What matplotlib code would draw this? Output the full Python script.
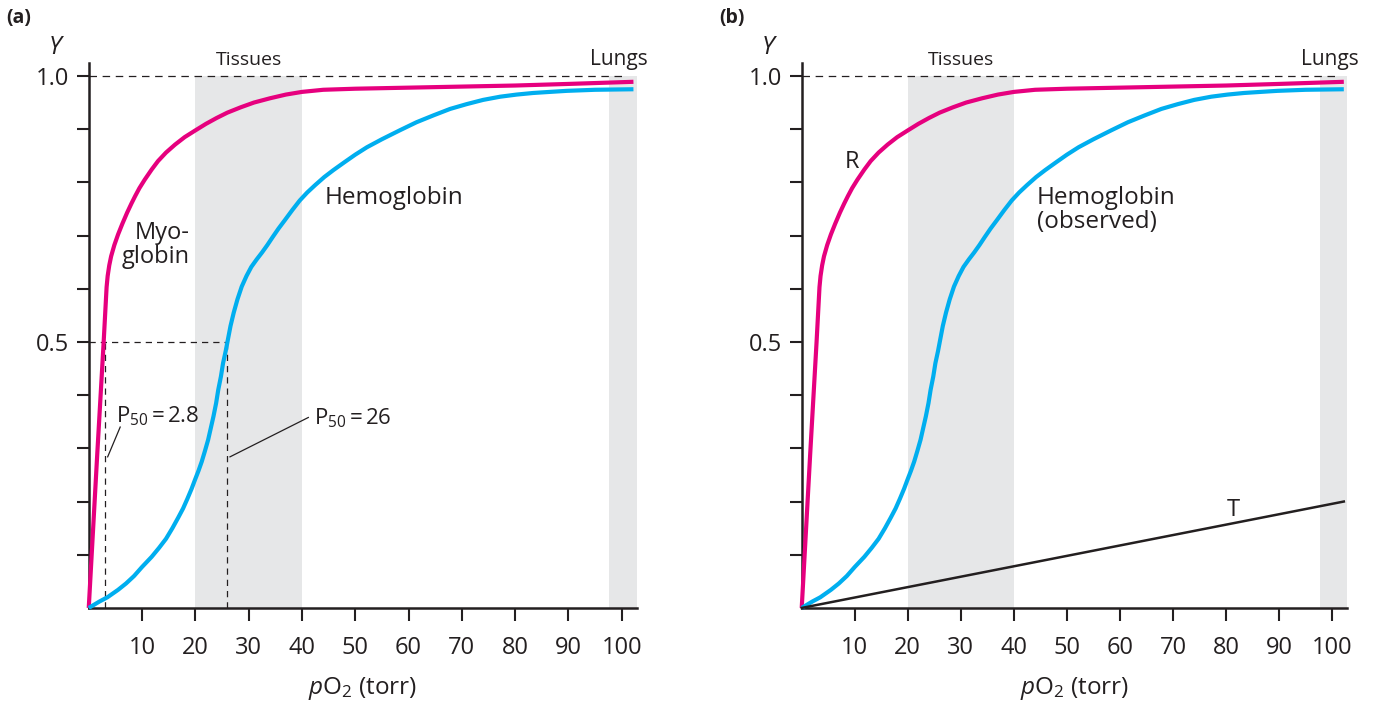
import matplotlib
matplotlib.use("Agg")
import matplotlib.pyplot as plt

plt.rcParams['font.family'] = ['Open Sans', 'DejaVu Sans']
plt.rcParams['mathtext.fontset'] = 'custom'
plt.rcParams['mathtext.rm'] = 'Open Sans'
plt.rcParams['mathtext.it'] = 'Open Sans:italic'

# ---- data (pO2 in torr, fractional saturation Y) ----
myo_p = [0, 1.6, 2.8, 3.2, 3.35, 3.55, 3.85, 4.2, 4.8, 5.5, 6.3, 7.2, 8.0, 8.7, 9.5,
         10.5, 11.8, 13.0, 14.5, 16.2, 18.0, 19.9, 22.0, 24.0, 26.0, 28.5, 31.0, 34.0,
         37.0, 40.0, 44.0, 50.0, 60.0, 70.0, 80.0, 90.0, 102.2]
myo_y = [0, 0.29, 0.50, 0.575, 0.603, 0.624, 0.644, 0.661, 0.682, 0.702, 0.722, 0.743,
         0.76, 0.774, 0.789, 0.805, 0.824, 0.84, 0.856, 0.871, 0.885, 0.897, 0.91,
         0.921, 0.931, 0.941, 0.95, 0.958, 0.965, 0.97, 0.974, 0.976, 0.978, 0.98,
         0.982, 0.985, 0.989]

hb_p = [0, 1.0, 2.0, 3.5, 5.5, 7.0, 8.5, 10.0, 11.8, 13.2, 14.5, 15.7, 16.8, 17.7, 18.5,
        19.3, 19.9, 20.6, 21.2, 21.8, 22.4, 22.9, 23.4, 23.9, 24.3, 24.8, 25.2, 25.7,
        26.1, 26.6, 27.2, 27.9, 28.7, 29.6, 30.5, 31.5, 32.5, 33.5, 34.5, 35.6, 36.8,
        38.2, 39.6, 41.0, 42.5, 44.2, 45.9, 48.0, 50.0, 52.2, 55.0, 58.4, 61.5, 64.7,
        67.8, 70.9, 74.0, 77.2, 80.3, 83.4, 86.5, 89.7, 95.0, 102.2]
hb_y = [0, 0.006, 0.012, 0.02, 0.034, 0.046, 0.06, 0.077, 0.096, 0.113, 0.13, 0.15, 0.17,
        0.187, 0.205, 0.224, 0.24, 0.258, 0.275, 0.295, 0.316, 0.338, 0.36, 0.385, 0.41,
        0.435, 0.46, 0.483, 0.504, 0.53, 0.555, 0.58, 0.604, 0.624, 0.641, 0.655, 0.668,
        0.682, 0.697, 0.713, 0.729, 0.748, 0.766, 0.781, 0.795, 0.81, 0.823, 0.838,
        0.852, 0.866, 0.881, 0.898, 0.913, 0.926, 0.938, 0.947, 0.955, 0.961, 0.965,
        0.968, 0.970, 0.972, 0.974, 0.975]

t_p = [0, 102.2]
t_y = [0, 0.2]

tissues = (20, 40)
lungs = (97.7, 102.8)
p50_myo = 2.8
p50_hb = 26
xticks = [10, 20, 30, 40, 50, 60, 70, 80, 90, 100]
yticks = [0.1, 0.2, 0.3, 0.4, 0.5, 0.6, 0.7, 0.8, 0.9, 1.0]
ytick_labels = ['', '', '', '', '0.5', '', '', '', '', '1.0']

PINK = '#E6007E'
BLUE = '#00AEEF'
SHADE = '#E6E7E8'
INK = '#231F20'

fig = plt.figure(figsize=(13.78, 7.02), dpi=100)
axA = fig.add_axes([0.0644, 0.134, 0.3976, 0.776])
axB = fig.add_axes([0.5818, 0.134, 0.3957, 0.776])

def base(ax, panel):
    ax.set_xlim(0, 102.8)
    ax.set_ylim(0, 1.024)
    for s in ('top', 'right'):
        ax.spines[s].set_visible(False)
    for s in ('left', 'bottom'):
        ax.spines[s].set_linewidth(1.8)
        ax.spines[s].set_color(INK)
    ax.fill_between(tissues, [0, 0], [1, 1], color=SHADE, lw=0, zorder=0)
    ax.fill_between(lungs, [0, 0], [1, 1], color=SHADE, lw=0, zorder=0)
    ax.plot([0, 101], [1, 1], ls=(0, (6, 4.5)), color=INK, lw=0.9, zorder=1)
    ax.set_xticks(xticks)
    ax.set_yticks(yticks)
    ax.set_yticklabels(ytick_labels)
    ax.tick_params(axis='both', direction='out', length=9, width=1.5, color=INK,
                   labelsize=17, labelcolor=INK)
    ax.tick_params(axis='x', pad=11)
    ax.tick_params(axis='y', pad=5)
    ax.set_xlabel('$p$O$_2$ (torr)', fontsize=17.5, color=INK, labelpad=11)
    ax.text(-6.1, 1.053, '$Y$', fontsize=18, color=INK,
            ha='center', va='center', clip_on=False)
    ax.text(-15.5, 1.109, panel, fontsize=14, fontweight='bold', color=INK,
            ha='left', va='center', clip_on=False)
    ax.text(30, 1.03, 'Tissues', fontsize=14, color=INK, ha='center', va='center',
            clip_on=False)
    ax.text(99.5, 1.03, 'Lungs', fontsize=15, color=INK, ha='center', va='center',
            clip_on=False)
    ax.plot(myo_p, myo_y, color=PINK, lw=3.0, zorder=3, solid_capstyle='butt',
            solid_joinstyle='round', clip_on=False)
    ax.plot(hb_p, hb_y, color=BLUE, lw=3.0, zorder=3, solid_capstyle='butt',
            solid_joinstyle='round', clip_on=False)

base(axA, '(a)')
base(axB, '(b)')

# panel (a) annotations
dash = (0, (5, 4))
axA.plot([0, p50_hb], [0.5, 0.5], ls=dash, color=INK, lw=0.9, zorder=2)
axA.plot([p50_myo + 0.2, p50_myo + 0.2], [0, 0.5], ls=dash, color=INK, lw=0.9, zorder=2)
axA.plot([p50_hb, p50_hb], [0, 0.5], ls=dash, color=INK, lw=0.9, zorder=2)
axA.plot([3.55, 5.9], [0.284, 0.34], color=INK, lw=0.9, zorder=2)
axA.plot([26.5, 41.2], [0.284, 0.358], color=INK, lw=0.9, zorder=2)
axA.text(5.1, 0.36, r'P$_{50}\,$=$\,$2.8', fontsize=16, color=INK, ha='left', va='center')
axA.text(42.3, 0.357, r'P$_{50}\,$=$\,$26', fontsize=16, color=INK, ha='left', va='center')
axA.text(19.0, 0.682, 'Myo-\nglobin', fontsize=17, color=INK, ha='right', va='center',
         multialignment='right', linespacing=1.0)
axA.text(44.3, 0.771, 'Hemoglobin', fontsize=17.5, color=INK, ha='left', va='center')

# panel (b) annotations
axB.plot(t_p, t_y, color=INK, lw=1.8, zorder=3, clip_on=False)
axB.text(9.4, 0.839, 'R', fontsize=17, color=INK, ha='center', va='center')
axB.text(81.3, 0.184, 'T', fontsize=17, color=INK, ha='center', va='center')
axB.text(44.3, 0.748, 'Hemoglobin\n(observed)', fontsize=17.5, color=INK, ha='left',
         va='center', linespacing=1.0)

fig.savefig('out.png', dpi=100)
